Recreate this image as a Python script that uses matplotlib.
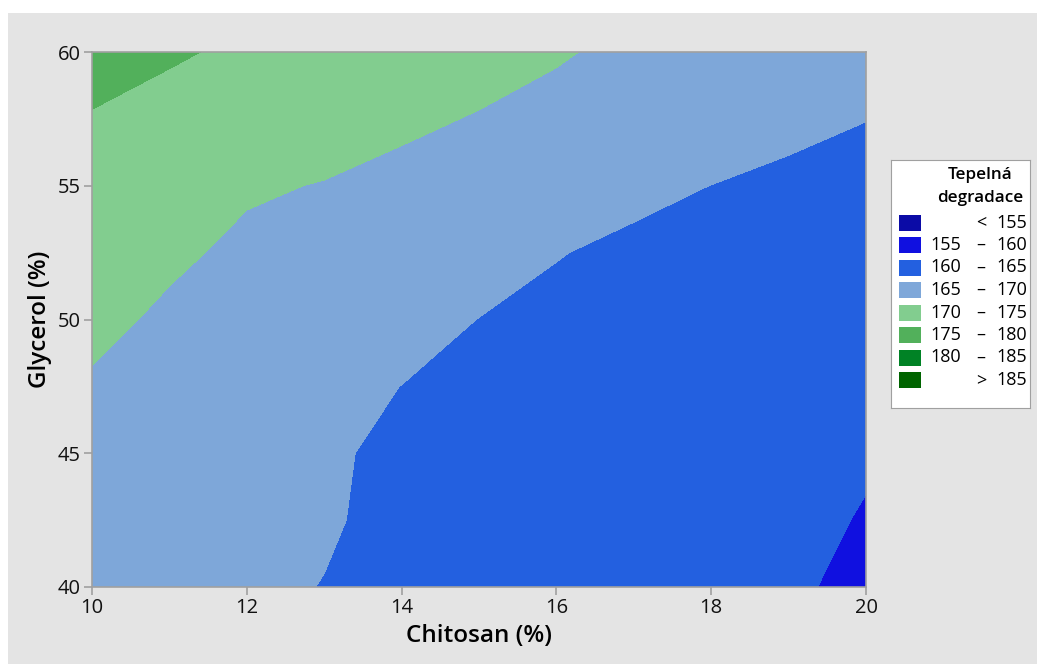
import matplotlib
matplotlib.use("Agg")
import matplotlib.pyplot as plt
from matplotlib.patches import Rectangle
import numpy as np

plt.rcParams["font.family"] = ["Open Sans", "DejaVu Sans"]

# response surface sampled on a regular grid
chitosan = [10, 11, 12, 13, 14, 15, 16, 17, 18, 19, 20]
glycerol = [40, 42.5, 45, 47.5, 50, 52.5, 55, 57.5, 60]
degradace = [
    [166.2, 165.8, 165.4, 164.95, 164.2, 163.4, 162.6, 161.8, 161.1, 160.3, 159.5],
    [167.3, 166.7, 166.2, 165.2, 164.5, 163.8, 163.1, 162.4, 161.7, 161.0, 159.75],
    [168.5, 167.7, 167.0, 165.2, 164.7, 164.2, 163.6, 163.0, 162.4, 161.7, 160.4],
    [169.6, 168.6, 167.9, 166.0, 164.97, 164.6, 164.1, 163.6, 163.0, 162.5, 161.5],
    [170.9, 169.4, 168.7, 167.2, 166.3, 164.95, 164.4, 164.2, 163.7, 163.2, 162.4],
    [172.2, 170.6, 169.3, 168.5, 167.7, 166.6, 165.1, 164.5, 164.3, 163.9, 163.3],
    [173.5, 172.3, 170.4, 169.85, 169.1, 168.2, 167.0, 165.6, 164.98, 164.5, 164.1],
    [174.8, 173.8, 172.6, 171.6, 170.6, 169.8, 168.7, 167.4, 166.5, 165.6, 165.04],
    [176.2, 175.4, 174.4, 173.4, 172.3, 171.3, 170.4, 169.0, 168.0, 167.0, 166.0],
]

levels = [155, 160, 165, 170, 175, 180, 185]
level_labels = ["<  155", "155  \u2013  160", "160  \u2013  165", "165  \u2013  170",
                "170  \u2013  175", "175  \u2013  180", "180  \u2013  185", ">  185"]
colors = ["#0b0ba6", "#1010e0", "#2360e0", "#7ea7d9",
          "#82cd8f", "#52b05b", "#008225", "#006400"]

fig = plt.figure(figsize=(10.37, 6.64), dpi=100)
fig.patch.set_facecolor("white")
fig.patches.append(Rectangle((8 / 1037, 0), 1, (664 - 13) / 664,
                             transform=fig.transFigure, facecolor="#e4e4e4",
                             edgecolor="none", zorder=-10))

ax = fig.add_axes([92 / 1037, 1 - 587 / 664, (866 - 92) / 1037, (587 - 52) / 664])
X, Y = np.meshgrid(chitosan, glycerol)
bounds = [100] + levels + [250]
ax.contourf(X, Y, np.array(degradace), levels=bounds, colors=colors)

ax.set_xlim(10, 20)
ax.set_ylim(40, 60)
ax.set_xticks([10, 12, 14, 16, 18, 20])
ax.set_yticks([40, 45, 50, 55, 60])
for s in ax.spines.values():
    s.set_color("#a0a0a0")
    s.set_linewidth(1.2)
ax.tick_params(colors="#a0a0a0", labelcolor="#111111", labelsize=14.5, length=6,
               width=1.2, pad=2)
for t in ax.get_xticklabels() + ax.get_yticklabels():
    t.set_fontweight("medium")
ax.set_xlabel("Chitosan (%)", fontsize=17.5, fontweight="semibold", labelpad=4)
ax.set_ylabel("Glycerol (%)", fontsize=17.5, fontweight="semibold", labelpad=4)

# legend panel, laid out in pixel units
lg = fig.add_axes([891 / 1037, 1 - 408 / 664, (1030 - 891) / 1037, (408 - 160) / 664])
lg.set_xlim(891, 1030)
lg.set_ylim(408, 160)
lg.set_xticks([])
lg.set_yticks([])
for s in lg.spines.values():
    s.set_color("#a0a0a0")
lg.text(980, 175, "Tepelná", ha="center", va="center", fontsize=12.3, fontweight="semibold")
lg.text(980, 198, "degradace", ha="center", va="center", fontsize=12.3, fontweight="semibold")
for i, (lab, col) in enumerate(zip(level_labels, colors)):
    yc = 222.5 + i * 22.5
    lg.add_patch(Rectangle((899, yc - 8), 22, 16, facecolor=col, edgecolor="none"))
    parts = lab.split()
    if len(parts) == 3:
        lg.text(930, yc, parts[0], ha="left", va="center", fontsize=13)
        lg.text(981, yc, parts[1], ha="center", va="center", fontsize=13)
        lg.text(1027, yc, parts[2], ha="right", va="center", fontsize=13)
    else:
        lg.text(981, yc, parts[0], ha="center", va="center", fontsize=13)
        lg.text(1027, yc, parts[1], ha="right", va="center", fontsize=13)

fig.savefig("out.png", dpi=100)
